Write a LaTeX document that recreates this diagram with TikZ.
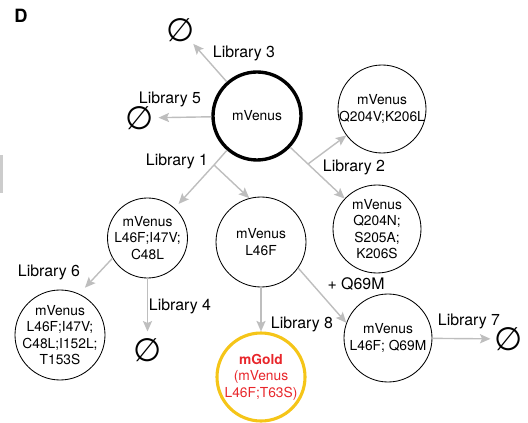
\documentclass[tikz,border=0pt]{standalone}
\usepackage{fontspec}
\setmainfont{TeX Gyre Heros}
\newfontfamily\symfont{DejaVu Sans}
\usetikzlibrary{positioning}
\usetikzlibrary{arrows.meta}

\definecolor{linegray}{RGB}{190,190,190}
\definecolor{goldring}{RGB}{245,197,24}
\definecolor{goldred}{RGB}{232,38,43}

\begin{document}
\begin{tikzpicture}[
plasmid/.style={circle, draw=black, line width=0.6pt, minimum size=22mm, inner sep=-3pt, align=center, font=\fontsize{9.8}{11.8}\selectfont},
nullset/.style={circle, inner sep=0pt, font=\symfont\fontsize{23}{23}\selectfont},
lib/.style={font=\fontsize{11.3}{13}\selectfont, inner sep=0pt},
arr/.style={draw=linegray, line width=1pt, -{Stealth[length=7.5pt, width=6.5pt, inset=1.5pt]}},
]
\useasboundingbox (0,0) rectangle (13.2,-10.575);

\node[font=\fontsize{13}{15}\selectfont\bfseries] (panel) at (0.525,-0.4) {D};
\fill[gray!40] (0,-3.875) rectangle (0.0875,-4.825);

\node[plasmid, line width=2.4pt] (main) at (6.425,-2.9) {mVenus};
\node[plasmid] (q204v) at (9.55,-2.725) {mVenus\\Q204V;K206L};
\node[plasmid] (q204n) at (9.425,-5.725) {mVenus\\Q204N;\\S205A;\\K206S};
\node[plasmid, minimum size=20mm] (l46fi) at (3.6875,-5.95) {mVenus\\L46F;I47V;\\C48L};
\node[plasmid, minimum size=22.5mm] (l46f) at (6.525,-6.05) {mVenus\\L46F};
\node[plasmid, minimum size=22.5mm] (l46fic) at (1.5,-8.375) {mVenus\\L46F;I47V;\\C48L;I152L;\\T153S};
\node[plasmid, draw=goldring, line width=2.2pt, text=goldred] (mgold) at (6.525,-9.425) {\textbf{mGold}\\(mVenus\\L46F;T63S)};
\node[plasmid] (l46fq) at (9.7,-8.45) {mVenus\\L46F; Q69M};

\node[nullset] (null3) at (4.525,-0.75) {∅};
\node[nullset] (null5) at (3.5,-2.95) {∅};
\node[nullset] (null4) at (3.6875,-8.75) {∅};
\node[nullset] (null7) at (12.725,-8.475) {∅};

\coordinate (split1) at (5.35,-4.125);
\coordinate (split2) at (7.7,-4.1);

\draw[arr] (main) -- (null3);
\draw[arr] (main) -- (null5);
\draw[draw=linegray, line width=1pt] (main) -- (split1);
\draw[arr, shorten >=4pt] (split1) -- (l46fi);
\draw[arr] (split1) -- (l46f.105);
\draw[arr] (main) -- (q204n);
\draw[arr] (split2) -- (q204v);
\draw[arr, shorten >=6pt] (l46fi.210) -- (l46fic.65);
\draw[arr] (l46fi) -- (null4);
\draw[arr] (l46f) -- (mgold);
\draw[arr] (l46f.-35) -- (l46fq.160);
\draw[arr] (l46fq) -- (null7);

\node[lib] (lib3) at (6.1,-1.325) {Library 3};
\node[lib] (lib5) at (4.25,-2.475) {Library 5};
\node[lib] (lib1) at (4.425,-4.025) {Library 1};
\node[lib] (lib2) at (8.85,-4.175) {Library 2};
\node[lib] (lib6) at (1.225,-6.8) {Library 6};
\node[lib] (lib4) at (4.5,-7.65) {Library 4};
\node[lib] (lib8) at (7.55,-8.1) {Library 8};
\node[lib] (q69m) at (8.9,-7.1) {+ Q69M};
\node[lib] (lib7) at (11.725,-8.025) {Library 7};
\end{tikzpicture}
\end{document}
